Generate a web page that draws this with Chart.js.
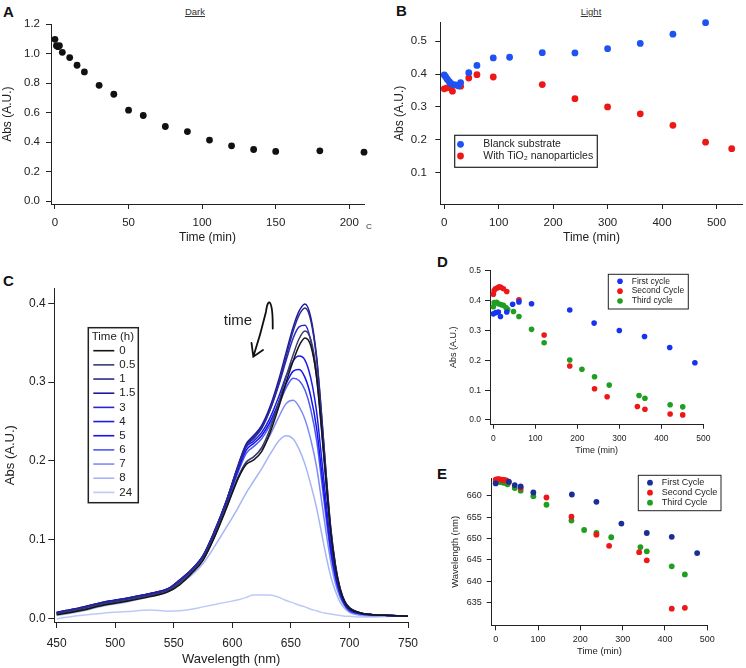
<!DOCTYPE html>
<html>
<head>
<meta charset="utf-8">
<script src="https://cdn.jsdelivr.net/npm/chart.js@4.4.1/dist/chart.umd.min.js"></script>
<style>
body { margin: 0; background: #fff; width: 746px; height: 668px; position: relative; overflow: hidden; font-family: "Liberation Sans", Arial, sans-serif; }
canvas { position: absolute; }
.lbl { position: absolute; font-weight: bold; font-size: 15px; color: #111; line-height: 17px; }
.ttl { position: absolute; font-size: 9.5px; text-decoration: underline; color: #333; transform: translateX(-50%); }
</style>
</head>
<body>
<div class="lbl" style="left:3px;top:3px">A</div>
<div class="ttl" style="left:195px;top:6px">Dark</div>
<div style="position:absolute;left:366px;top:222px;font-size:8px;color:#333">C</div>
<div class="lbl" style="left:396px;top:2px">B</div>
<div class="ttl" style="left:591px;top:6px">Light</div>
<div class="lbl" style="left:3px;top:272px">C</div>
<div class="lbl" style="left:437px;top:253px">D</div>
<div class="lbl" style="left:437px;top:465px">E</div>

<canvas id="chartA" width="380" height="250" style="left:0px;top:0px"></canvas>
<canvas id="chartB" width="366" height="250" style="left:380px;top:0px"></canvas>
<canvas id="chartC" width="430" height="408" style="left:0px;top:260px"></canvas>
<canvas id="chartD" width="309" height="200" style="left:437px;top:260px"></canvas>
<canvas id="chartE" width="309" height="200" style="left:437px;top:468px"></canvas>

<script>
// ---- A: dark ----
const darkTime = [0, 1, 2, 3, 5, 10, 15, 20, 30, 40, 50, 60, 75, 90, 105, 120, 135, 150, 180, 210];
const darkAbs = [1.098, 1.055, 1.048, 1.055, 1.010, 0.974, 0.922, 0.877, 0.786, 0.725, 0.617, 0.581, 0.506, 0.472, 0.414, 0.375, 0.350, 0.337, 0.341, 0.332];
const darkXTicks = [0, 50, 100, 150, 200];
const darkYTicks = [0, 0.2, 0.4, 0.6, 0.8, 1.0, 1.2];

// ---- B: light ----
const blankTime = [0, 2.5, 5, 7.5, 10, 12.5, 16, 21, 26, 30, 45, 60, 90, 120, 180, 240, 300, 360, 420, 480];
const blankAbs = [0.397, 0.392, 0.385, 0.380, 0.375, 0.371, 0.368, 0.367, 0.364, 0.374, 0.404, 0.426, 0.449, 0.451, 0.465, 0.464, 0.477, 0.493, 0.521, 0.556];
const tio2Time = [0, 5, 10, 15, 30, 45, 60, 90, 180, 240, 300, 360, 420, 480, 528];
const tio2Abs = [0.355, 0.358, 0.359, 0.348, 0.363, 0.388, 0.398, 0.391, 0.368, 0.325, 0.300, 0.279, 0.244, 0.193, 0.173];
const lightXTicks = [0, 100, 200, 300, 400, 500];
const lightYTicks = [0.1, 0.2, 0.3, 0.4, 0.5];

// ---- C: spectra ----
const specWl = [450, 470, 490, 510, 530, 545, 555, 565, 575, 585, 595, 605, 612, 618, 625, 632, 640, 646, 652, 657, 662, 667, 672, 676, 680, 684, 688, 692, 696, 700, 710, 720, 735, 750];
const spec0 = [.005, .010, .017, .022, .028, .034, .043, .057, .074, .104, .140, .178, .196, .201, .212, .235, .270, .300, .327, .346, .356, .346, .306, .245, .176, .110, .065, .037, .021, .013, .007, .005, .004, .003];
const spec05 = [.006, .011, .018, .023, .029, .035, .045, .058, .075, .105, .142, .180, .199, .205, .217, .240, .276, .307, .335, .355, .365, .354, .312, .249, .178, .111, .066, .037, .021, .013, .007, .005, .004, .003];
const spec1 = [.007, .013, .020, .025, .031, .037, .048, .061, .079, .111, .149, .193, .220, .228, .241, .264, .300, .333, .365, .385, .394, .378, .329, .261, .184, .115, .068, .038, .022, .014, .007, .005, .004, .003];
const spec15 = [.008, .014, .021, .026, .032, .038, .049, .062, .080, .112, .150, .195, .222, .232, .245, .268, .305, .338, .370, .390, .399, .382, .332, .263, .186, .116, .069, .039, .022, .014, .007, .005, .004, .003];
const spec3 = [.008, .014, .021, .026, .032, .038, .049, .062, .080, .112, .150, .194, .221, .230, .243, .264, .298, .328, .356, .370, .372, .352, .305, .242, .172, .108, .064, .036, .020, .013, .007, .005, .004, .003];
const spec4 = [.008, .013, .021, .026, .032, .038, .049, .062, .080, .111, .149, .192, .218, .225, .236, .254, .283, .308, .327, .333, .328, .305, .262, .207, .149, .095, .058, .033, .019, .012, .007, .005, .004, .003];
const spec5 = [.007, .013, .020, .025, .031, .037, .048, .061, .079, .110, .147, .189, .214, .222, .232, .249, .276, .298, .314, .316, .306, .282, .241, .190, .137, .088, .054, .031, .018, .011, .006, .005, .004, .003];
const spec6 = [.007, .013, .020, .025, .031, .037, .047, .060, .078, .109, .145, .186, .210, .218, .228, .245, .272, .293, .305, .302, .290, .265, .226, .178, .128, .083, .051, .030, .017, .010, .006, .005, .004, .003];
const spec7 = [.006, .012, .019, .024, .030, .036, .046, .059, .077, .106, .141, .178, .198, .205, .215, .232, .257, .273, .277, .269, .253, .227, .192, .152, .110, .073, .045, .027, .016, .009, .005, .004, .004, .003];
const spec8 = [.004, .009, .016, .021, .028, .034, .044, .055, .070, .092, .116, .141, .160, .174, .190, .208, .226, .232, .228, .215, .196, .170, .140, .110, .080, .054, .035, .021, .013, .008, .004, .003, .003, .003];
const spec24 = [.000, .004, .007, .009, .011, .0095, .010, .012, .015, .018, .021, .024, .027, .030, .030, .030, .027, .023, .020, .017, .015, .012, .010, .008, .007, .006, .005, .004, .003, .003, .002, .002, .003, .003];
const specLabels = ['0', '0.5', '1', '1.5', '3', '4', '5', '6', '7', '8', '24'];
const specSeries = [spec0, spec05, spec1, spec15, spec3, spec4, spec5, spec6, spec7, spec8, spec24];
const specColors = ['#151515', '#3b3b6e', '#2c2c88', '#1b1ba2', '#2828cc', '#1c1ce2', '#1212f2', '#4a5af2', '#7e8bf2', '#a5b5f6', '#bccaf6'];
const specXTicks = [450, 500, 550, 600, 650, 700, 750];
const specYTicks = [0, 0.1, 0.2, 0.3, 0.4];
// "time" arrow, in wavelength / absorbance units
const arrowStart = [634.5, 0.368];
const arrowCp1 = [634.7, 0.4055];
const arrowCp2 = [630.4, 0.4093];
const arrowBend = [628.7, 0.389];
const arrowTip = [617.9, 0.3323];
const arrowWing1 = [616.4, 0.3497];
const arrowWing2 = [626.2, 0.3408];
const arrowText = [604.8, 0.378];

// ---- D: cycles, absorbance ----
const c1Time = [0, 6, 12, 17, 32, 46, 61, 91, 182, 240, 300, 360, 420, 480];
const c1Abs = [0.356, 0.360, 0.362, 0.347, 0.362, 0.388, 0.396, 0.390, 0.369, 0.325, 0.300, 0.280, 0.243, 0.192];
const c2Time = [0, 2, 5, 10, 14, 18, 24, 32, 61, 121, 182, 241, 271, 343, 361, 421, 451];
const c2Abs = [0.422, 0.434, 0.440, 0.443, 0.447, 0.445, 0.440, 0.431, 0.403, 0.285, 0.181, 0.105, 0.078, 0.045, 0.036, 0.020, 0.017];
const c3Time = [0, 2, 8, 12, 18, 24, 30, 34, 48, 61, 91, 121, 182, 211, 241, 276, 347, 361, 421, 451];
const c3Abs = [0.380, 0.394, 0.395, 0.390, 0.387, 0.385, 0.377, 0.371, 0.364, 0.347, 0.304, 0.259, 0.201, 0.170, 0.145, 0.117, 0.082, 0.073, 0.051, 0.044];
const cycXTicks = [0, 100, 200, 300, 400, 500];
const cycYTicks = [0, 0.1, 0.2, 0.3, 0.4, 0.5];

// ---- E: cycles, wavelength ----
const w1Time = [0, 31, 45, 59, 89, 180, 238, 297, 357, 416, 476];
const w1Nm = [662.9, 663.3, 662.5, 662.2, 660.8, 660.3, 658.6, 653.5, 651.3, 650.4, 646.6];
const w2Time = [0, 4, 8, 12, 16, 20, 25, 31, 59, 120, 179, 238, 268, 339, 357, 416, 447];
const w2Nm = [663.8, 663.9, 663.9, 663.8, 663.8, 663.7, 663.6, 663.2, 661.8, 659.6, 655.1, 650.9, 648.3, 646.8, 644.9, 633.6, 633.8];
const w3Time = [0, 3, 8, 12, 17, 22, 28, 45, 59, 89, 120, 179, 209, 238, 273, 342, 357, 416, 447];
const w3Nm = [663.3, 663.4, 663.3, 663.2, 663.1, 663.0, 662.7, 661.8, 661.2, 659.9, 657.9, 654.2, 652.0, 651.3, 650.3, 648.0, 647.0, 643.5, 641.6];
const wlYTicks = [635, 640, 645, 650, 655, 660];

Chart.defaults.font.family = '"Liberation Sans", Arial, sans-serif';
Chart.defaults.color = '#222';

function pts(xs, ys) {
    return xs.map((x, i) => ({x: x, y: ys[i]}));
}

function axis(o) {
    return {
        type: 'linear',
        position: o.pos,
        min: o.min,
        max: o.max,
        afterBuildTicks: s => { s.ticks = o.ticks.map(v => ({value: v})); },
        afterFit: s => { if (o.pos === 'left') s.width = o.size; else s.height = o.size; },
        border: {display: true, color: '#222', width: 1},
        grid: {display: true, drawOnChartArea: false, drawTicks: true, tickLength: o.tl, color: '#222'},
        ticks: {font: {size: o.fs}, color: '#222', padding: o.pad, maxRotation: 0, autoSkip: false,
                callback: o.fmt || (v => String(v))},
        title: {display: true, text: o.title, font: {size: o.tfs}, color: '#222', padding: o.tpad}
    };
}

const one = v => v.toFixed(1);

// legend drawn inside a box, like the original
const boxLegend = {
    id: 'boxLegend',
    afterDraw(chart, args, o) {
        if (!o || !o.w) return;
        const ctx = chart.ctx;
        ctx.save();
        ctx.strokeStyle = '#222';
        ctx.lineWidth = o.lw || 1;
        ctx.strokeRect(o.x, o.y, o.w, o.h);
        ctx.font = o.fs + 'px "Liberation Sans", "DejaVu Sans", Arial, sans-serif';
        ctx.textBaseline = 'middle';
        ctx.fillStyle = '#222';
        if (o.title) ctx.fillText(o.title, o.titleX, o.titleY);
        chart.data.datasets.forEach((ds, i) => {
            const y = o.y0 + i * o.dy;
            if (o.line) {
                ctx.strokeStyle = ds.borderColor;
                ctx.lineWidth = 1.6;
                ctx.beginPath();
                ctx.moveTo(o.mx, y);
                ctx.lineTo(o.mx2, y);
                ctx.stroke();
            } else {
                ctx.fillStyle = ds.backgroundColor;
                ctx.beginPath();
                ctx.arc(o.mx, y, o.r, 0, Math.PI * 2);
                ctx.fill();
            }
            ctx.fillStyle = '#222';
            ctx.fillText(ds.label, o.tx, y);
        });
        ctx.restore();
    }
};

const timeArrow = {
    id: 'timeArrow',
    afterDatasetsDraw(chart) {
        const sx = chart.scales.x, sy = chart.scales.y, ctx = chart.ctx;
        const P = p => [sx.getPixelForValue(p[0]), sy.getPixelForValue(p[1])];
        const s = P(arrowStart), c1 = P(arrowCp1), c2 = P(arrowCp2), b = P(arrowBend), t = P(arrowTip);
        const w1 = P(arrowWing1), w2 = P(arrowWing2), tx = P(arrowText);
        ctx.save();
        ctx.strokeStyle = '#111';
        ctx.lineWidth = 1.8;
        ctx.lineCap = 'round';
        ctx.beginPath();
        ctx.moveTo(s[0], s[1]);
        ctx.bezierCurveTo(c1[0], c1[1], c2[0], c2[1], b[0], b[1]);
        ctx.quadraticCurveTo((b[0] + t[0]) / 2 + 1, (b[1] + t[1]) / 2, t[0], t[1]);
        ctx.moveTo(w1[0], w1[1]);
        ctx.lineTo(t[0], t[1]);
        ctx.lineTo(w2[0], w2[1]);
        ctx.stroke();
        ctx.fillStyle = '#222';
        ctx.font = '15px "Liberation Sans", Arial, sans-serif';
        ctx.textAlign = 'center';
        ctx.textBaseline = 'middle';
        ctx.fillText('time', tx[0], tx[1]);
        ctx.restore();
    }
};

function scatterSet(label, xs, ys, color, r) {
    return {label: label, data: pts(xs, ys), backgroundColor: color, borderWidth: 0,
            pointRadius: r, pointHoverRadius: r, showLine: false, clip: false};
}

function baseOptions(padding, scales, legendOpts) {
    return {
        responsive: false,
        animation: false,
        devicePixelRatio: 1,
        layout: {padding: padding},
        plugins: {legend: {display: false}, tooltip: {enabled: false}, boxLegend: legendOpts || {}},
        scales: scales
    };
}

// A
new Chart(document.getElementById('chartA'), {
    type: 'scatter',
    data: {datasets: [scatterSet('Dark', darkTime, darkAbs, '#111', 3.4)]},
    options: baseOptions({left: 0, top: 24.3, right: 16, bottom: 0}, {
        x: axis({pos: 'bottom', min: -2.7, max: 210, ticks: darkXTicks, size: 46, tl: 5, fs: 11.5, pad: 7,
                 title: 'Time (min)', tfs: 12, tpad: {bottom: 5.5, top: 0}}),
        y: axis({pos: 'left', min: -0.02, max: 1.2, ticks: darkYTicks, size: 51, tl: 5, fs: 11.5, pad: 6, fmt: one,
                 title: 'Abs (A.U.)', tfs: 12, tpad: {top: 0.3, bottom: 0}})
    }),
    plugins: [boxLegend]
});

// B
new Chart(document.getElementById('chartB'), {
    type: 'scatter',
    data: {datasets: [
        scatterSet('Blanck substrate', blankTime, blankAbs, '#1f52f2', 3.4),
        scatterSet('With TiO\u2082 nanoparticles', tio2Time, tio2Abs, '#ee1717', 3.4)
    ]},
    options: baseOptions({left: 0, top: 22.7, right: 1.4, bottom: 0}, {
        x: axis({pos: 'bottom', min: -7.3, max: 548, ticks: lightXTicks, size: 46, tl: 5, fs: 11.5, pad: 7,
                 title: 'Time (min)', tfs: 12, tpad: {bottom: 5.5, top: 0}}),
        y: axis({pos: 'left', min: 0.005, max: 0.556, ticks: lightYTicks, size: 60.3, tl: 5, fs: 11.5, pad: 8.5, fmt: one,
                 title: 'Abs (A.U.)', tfs: 12, tpad: {top: 12.8, bottom: 0}})
    }, {x: 74.7, y: 135.3, w: 142.6, h: 32, lw: 1.2, fs: 10.5, mx: 80.5, r: 3.4, tx: 103.3, y0: 144.3, dy: 11.7}),
    plugins: [boxLegend]
});

// C
new Chart(document.getElementById('chartC'), {
    type: 'scatter',
    data: {datasets: specSeries.map((s, i) => ({
        label: specLabels[i], data: pts(specWl, s), borderColor: specColors[i], backgroundColor: specColors[i],
        borderWidth: 1.5, pointRadius: 0, showLine: true, cubicInterpolationMode: 'monotone'
    }))},
    options: baseOptions({left: 0, top: 28.3, right: 22, bottom: 0}, {
        x: axis({pos: 'bottom', min: 448, max: 750, ticks: specXTicks, size: 46, tl: 6, fs: 12, pad: 8,
                 title: 'Wavelength (nm)', tfs: 13, tpad: {bottom: 0.9, top: 0}}),
        y: axis({pos: 'left', min: -0.0042, max: 0.419, ticks: specYTicks, size: 54.3, tl: 6, fs: 12, pad: 2.6, fmt: one,
                 title: 'Abs (A.U.)', tfs: 13, tpad: {top: 2.2, bottom: 0}})
    }, {x: 88.3, y: 67.7, w: 50, h: 175, lw: 1.5, fs: 11.5, line: true, mx: 93.3, mx2: 114.3, tx: 119.3,
        y0: 90.7, dy: 14.17, title: 'Time (h)', titleX: 91.7, titleY: 77.2}),
    plugins: [boxLegend, timeArrow]
});

// D
new Chart(document.getElementById('chartD'), {
    type: 'scatter',
    data: {datasets: [
        scatterSet('First cycle', c1Time, c1Abs, '#1733f0', 2.8),
        scatterSet('Second Cycle', c2Time, c2Abs, '#ee1717', 2.8),
        scatterSet('Third cycle', c3Time, c3Abs, '#1f9e1f', 2.8)
    ]},
    options: baseOptions({left: 0, top: 10, right: 42.7, bottom: 0}, {
        x: axis({pos: 'bottom', min: -7.9, max: 500, ticks: cycXTicks, size: 35.3, tl: 4, fs: 8.5, pad: 5,
                 title: 'Time (min)', tfs: 9, tpad: {bottom: 3.6, top: 0}}),
        y: axis({pos: 'left', min: -0.0158, max: 0.503, ticks: cycYTicks, size: 53, tl: 5, fs: 8.5, pad: 4, fmt: one,
                 title: 'Abs (A.U.)', tfs: 9, tpad: {top: 10.9, bottom: 0}})
    }, {x: 171.3, y: 14.3, w: 80, h: 34.7, lw: 1, fs: 8.5, mx: 183, r: 2.8, tx: 194.7, y0: 21.3, dy: 9.85}),
    plugins: [boxLegend]
});

// E
new Chart(document.getElementById('chartE'), {
    type: 'scatter',
    data: {datasets: [
        scatterSet('First Cycle', w1Time, w1Nm, '#1a2e96', 2.9),
        scatterSet('Second Cycle', w2Time, w2Nm, '#ee1717', 2.9),
        scatterSet('Third Cycle', w3Time, w3Nm, '#1f9e1f', 2.9)
    ]},
    options: baseOptions({left: 0, top: 8.7, right: 38.7, bottom: 0}, {
        x: axis({pos: 'bottom', min: -9.45, max: 500, ticks: cycXTicks, size: 42.7, tl: 5, fs: 9, pad: 3.5,
                 title: 'Time (min)', tfs: 9.5, tpad: {bottom: 10.9, top: 0}}),
        y: axis({pos: 'left', min: 629.7, max: 664.07, ticks: wlYTicks, size: 54.7, tl: 5, fs: 9, pad: 5,
                 title: 'Wavelength (nm)', tfs: 9.5, tpad: {top: 12.6, bottom: 0}})
    }, {x: 201.3, y: 7.3, w: 82.7, h: 35.4, lw: 1, fs: 9, mx: 213, r: 2.9, tx: 224.7, y0: 14.7, dy: 10}),
    plugins: [boxLegend]
});
</script>
</body>
</html>
